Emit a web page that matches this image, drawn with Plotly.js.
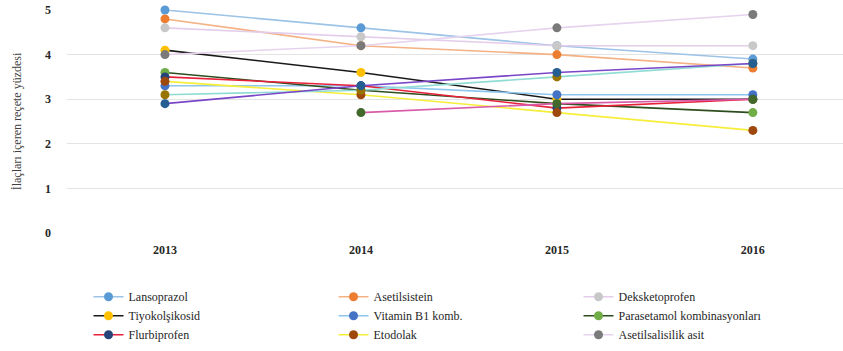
<!DOCTYPE html>
<html>
<head>
<meta charset="utf-8">
<script src="https://cdn.plot.ly/plotly-3.0.1.min.js"></script>
<style>html,body{margin:0;padding:0;background:#fff;}#chart{width:843px;height:351px;}</style>
</head>
<body>
<div id="chart"></div>
<script>
const years = ["2013", "2014", "2015", "2016"];
const yTicks = [0, 1, 2, 3, 4, 5];
const yTitle = "İlaçları içeren reçete yüzdesi";

const seriesNames = [
  "Lansoprazol", "Asetilsistein", "Deksketoprofen",
  "Tiyokolşikosid", "Vitamin B1 komb.", "Parasetamol kombinasyonları",
  "Flurbiprofen", "Etodolak", "Asetilsalisilik asit",
  "Seri 10", "Seri 11", "Seri 12"
];
const lansoprazol   = [5.0, 4.6, 4.2, 3.9];
const asetilsistein = [4.8, 4.2, 4.0, 3.7];
const deksketoprofen = [4.6, 4.4, 4.2, 4.2];
const tiyokolsikosid = [4.1, 3.6, 3.0, 3.0];
const vitaminB1     = [3.3, 3.3, 3.1, 3.1];
const parasetamol   = [3.6, 3.2, 2.9, 2.7];
const flurbiprofen  = [3.5, 3.3, 2.8, 3.0];
const etodolak      = [3.4, 3.1, 2.7, 2.3];
const asetilsalisilik = [4.0, 4.2, 4.6, 4.9];
const seri10        = [3.1, 3.2, 3.5, 3.8];
const seri11        = [2.9, 3.3, 3.6, 3.8];
const seri12        = [null, 2.7, 2.9, 3.0];
const seriesValues = [lansoprazol, asetilsistein, deksketoprofen, tiyokolsikosid, vitaminB1,
  parasetamol, flurbiprofen, etodolak, asetilsalisilik, seri10, seri11, seri12];
const showInLegend = [true, true, true, true, true, true, true, true, true, false, false, false];

const lineColors = ["#9DC3E6", "#F4B183", "#E3CDEB", "#1A1A1A", "#8FC6EE", "#2E4D1E",
  "#E8213A", "#F5EE3A", "#E6D3EE", "#8EDCD4", "#7A46C8", "#D85AA8"];
const markerColors = ["#5B9BD5", "#ED7D31", "#C8C8C8", "#FFC000", "#4472C4", "#70AD47",
  "#264478", "#9E480E", "#7A7A7A", "#997300", "#255E91", "#43682B"];

const SERIF = "'Liberation Serif', 'Times New Roman', Times, serif";

const traces = seriesValues.map((vals, i) => ({
  type: "scatter",
  mode: "lines+markers",
  name: seriesNames[i],
  x: years,
  y: vals,
  showlegend: showInLegend[i],
  cliponaxis: false,
  line: {color: lineColors[i], width: 1.6},
  marker: {color: markerColors[i], size: 9}
}));

const layout = {
  width: 843, height: 351,
  paper_bgcolor: "#fff", plot_bgcolor: "#fff",
  margin: {l: 67, r: 0, t: 10, b: 118, autoexpand: false},
  font: {family: SERIF, color: "#262626"},
  showlegend: true,
  xaxis: {
    type: "category",
    range: [-0.5, 3.46],
    showgrid: false, zeroline: false, showline: false,
    ticks: "", ticklabelstandoff: 8,
    tickfont: {size: 12, family: SERIF, weight: "bold", color: "#262626"}
  },
  yaxis: {
    range: [0, 5],
    tickvals: yTicks,
    showgrid: true, gridcolor: "#E3E3E3", gridwidth: 1,
    zeroline: false, showline: false, ticks: "",
    ticklabelstandoff: 15,
    tickfont: {size: 12, family: SERIF, weight: "bold", color: "#262626"},
    title: {text: yTitle, standoff: 20, font: {size: 12, family: SERIF, color: "#404040"}}
  },
  legend: {
    orientation: "h",
    xref: "container", yref: "container",
    x: 0.105, xanchor: "left",
    y: 0.196, yanchor: "top",
    entrywidth: 200, entrywidthmode: "pixels",
    font: {size: 12, family: SERIF, color: "#262626"},
    bgcolor: "rgba(0,0,0,0)",
    traceorder: "normal",
    itemclick: false
  }
};

Plotly.newPlot("chart", traces, layout, {displayModeBar: false, staticPlot: true});
</script>
</body>
</html>
